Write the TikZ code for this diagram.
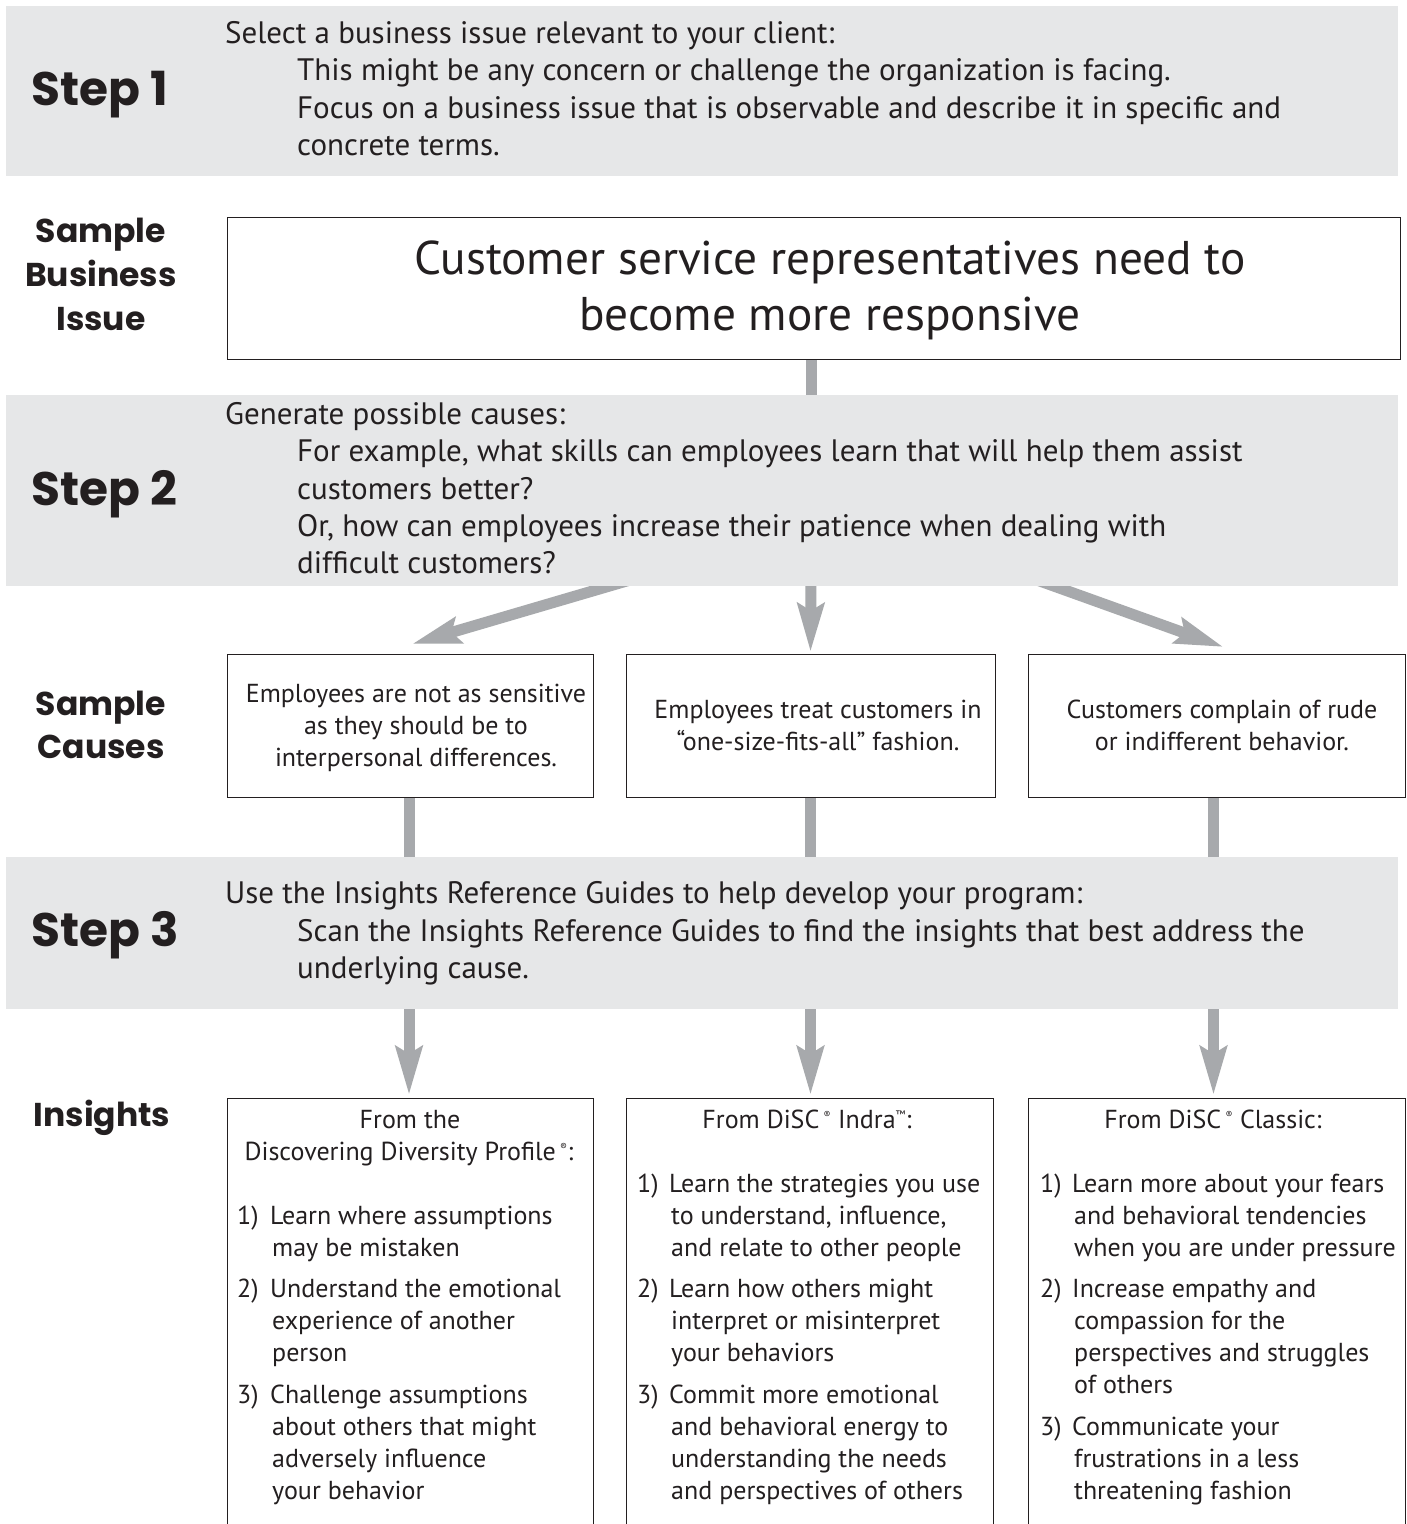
\documentclass[tikz,border=0pt]{standalone}
\usepackage{fontspec}
\setmainfont{PT Sans}
\newfontfamily\headfont{Poppins}
\usetikzlibrary{arrows.meta}
\definecolor{ink}{HTML}{231F20}
\definecolor{bandgray}{HTML}{E6E7E8}
\definecolor{arrowgray}{HTML}{A7A9AC}
\pgfdeclarelayer{bg}
\pgfsetlayers{bg,main}
\newcommand\regm{\textsuperscript{\scalebox{0.55}{®}}}
\newcommand\tmm{\textsuperscript{\scalebox{0.6}{™}}}
\begin{document}
\begin{tikzpicture}[x=1pt,y=-1pt,
  band/.style={fill=bandgray, draw=none, anchor=north west, inner sep=0pt, outer sep=0pt},
  box/.style={draw=ink, line width=1pt, fill=white, anchor=north west, inner sep=0pt, outer sep=0pt},
  conn/.style={draw=arrowgray, line width=11pt},
  arr/.style={conn, -{Stealth[length=48pt,width=26pt,inset=7pt]}},
  headbig/.style={font=\headfont\bfseries\fontsize{47}{50}\selectfont, text=ink, inner sep=0pt, anchor=base west},
  headsm/.style={font=\headfont\bfseries\fontsize{33}{40}\selectfont, text=ink, inner sep=0pt, anchor=base},
  body/.style={font=\fontsize{31}{36}\selectfont, text=ink, inner sep=0pt, anchor=base west},
  big/.style={font=\fontsize{47.3}{56}\selectfont, text=ink, inner sep=0pt, anchor=base},
  sm/.style={font=\fontsize{26}{30}\selectfont, text=ink, inner sep=0pt, anchor=base west},
  smc/.style={sm, anchor=base}]
\useasboundingbox (0,0) rectangle (1407,1524);
\begin{pgfonlayer}{bg}
\fill[white] (0,0) rectangle (1407,1524);
\end{pgfonlayer}
% bands
\node[band, minimum width=1392pt, minimum height=170pt] (band1) at (6,6) {};
\node[band, minimum width=1392pt, minimum height=191pt] (band2) at (6,395) {};
\node[band, minimum width=1392pt, minimum height=152pt] (band3) at (6,857) {};
% boxes
\node[box, minimum width=1173pt, minimum height=142pt] (issue) at (227,217) {};
\node[box, minimum width=366pt, minimum height=143pt] (c1) at (227,654) {};
\node[box, minimum width=369pt, minimum height=143pt] (c2) at (626,654) {};
\node[box, minimum width=377pt, minimum height=143pt] (c3) at (1028,654) {};
\node[box, minimum width=366pt, minimum height=450pt] (i1) at (227,1098) {};
\node[box, minimum width=367pt, minimum height=450pt] (i2) at (626,1098) {};
\node[box, minimum width=377pt, minimum height=450pt] (i3) at (1028,1098) {};
% connectors
\begin{pgfonlayer}{bg}
\draw[conn] ([xshift=-2pt]issue.south) -- ([xshift=-2pt,yshift=-8pt]band2.north -| issue.south);
\draw[arr] ([xshift=-72pt,yshift=6pt]band2.south) -- ([xshift=2pt,yshift=10pt]c1.north);
\draw[arr] ([xshift=109pt,yshift=6pt]band2.south) -- ([xshift=0pt,yshift=2pt]c2.north);
\draw[arr] ([xshift=335pt,yshift=6pt]band2.south) -- ([xshift=7pt,yshift=7pt]c3.north);
\draw[conn] ([xshift=-1pt]c1.south) -- ([xshift=-1pt,yshift=-8pt]band3.north -| c1.south);
\draw[conn] ([xshift=0pt]c2.south) -- ([yshift=-8pt]band3.north -| c2.south);
\draw[conn] ([xshift=-3pt]c3.south) -- ([xshift=-3pt,yshift=-8pt]band3.north -| c3.south);
\draw[arr] ([xshift=-1pt,yshift=6pt]band3.south -| i1.north) -- ([xshift=-1pt,yshift=3pt]i1.north);
\draw[arr] ([xshift=1pt,yshift=6pt]band3.south -| i2.north) -- ([xshift=1pt,yshift=3pt]i2.north);
\draw[arr] ([xshift=-3pt,yshift=6pt]band3.south -| i3.north) -- ([xshift=-3pt,yshift=3pt]i3.north);
\end{pgfonlayer}
% left headings
\node[headbig] (h1) at (31,105) {Step 1};
\node[headsm] (h2a) at (101,242) {Sample};
\node[headsm] (h2b) at (101,286) {Business};
\node[headsm] (h2c) at (101,330) {Issue};
\node[headbig] (h3) at (31,505) {Step 2};
\node[headsm] (h4a) at (101,715) {Sample};
\node[headsm] (h4b) at (101,758) {Causes};
\node[headbig] (h5) at (31,946) {Step 3};
\node[headsm] (h6) at (102,1126) {Insights};
% step 1 text
\node[body] (s1a) at (225,43) {Select a business issue relevant to your client:};
\node[body] (s1b) at (297,80) {This might be any concern or challenge the organization is facing.};
\node[body] (s1c) at (297,118) {Focus on a business issue that is observable and describe it in specific and};
\node[body] (s1d) at (297,155) {concrete terms.};
% issue
\node[big] (is1) at (830,274) {Customer service representatives need to};
\node[big] (is2) at (830,330) {become more responsive};
% step 2 text
\node[body] (s2a) at (225,424) {Generate possible causes:};
\node[body] (s2b) at (297,461) {For example, what skills can employees learn that will help them assist};
\node[body] (s2c) at (297,499) {customers better?};
\node[body] (s2d) at (297,536) {Or, how can employees increase their patience when dealing with};
\node[body] (s2e) at (297,573) {difficult customers?};
% causes
\node[smc] (c1a) at (416,702) {Employees are not as sensitive};
\node[smc] (c1b) at (416,734) {as they should be to};
\node[smc] (c1c) at (416,766) {interpersonal differences.};
\node[smc] (c2a) at (818,718) {Employees treat customers in};
\node[smc] (c2b) at (818,750) {“one-size-fits-all” fashion.};
\node[smc] (c3a) at (1222,718) {Customers complain of rude};
\node[smc] (c3b) at (1222,750) {or indifferent behavior.};
% step 3 text
\node[body] (s3a) at (225,903) {Use the Insights Reference Guides to help develop your program:};
\node[body] (s3b) at (297,941) {Scan the Insights Reference Guides to find the insights that best address the};
\node[body] (s3c) at (297,978) {underlying cause.};
% insights col 1
\node[smc] (a0) at (410,1128) {From the};
\node[smc] (a1) at (409,1160) {Discovering Diversity Profile\,\regm:};
\node[sm] (a2n) at (237,1224) {1)};
\node[sm] (a2) at (270,1224) {Learn where assumptions};
\node[sm] (a3) at (272,1256) {may be mistaken};
\node[sm] (a4n) at (237,1297) {2)};
\node[sm] (a4) at (270,1297) {Understand the emotional};
\node[sm] (a5) at (272,1329) {experience of another};
\node[sm] (a6) at (272,1361) {person};
\node[sm] (a7n) at (237,1403) {3)};
\node[sm] (a7) at (270,1403) {Challenge assumptions};
\node[sm] (a8) at (272,1435) {about others that might};
\node[sm] (a9) at (272,1467) {adversely influence};
\node[sm] (a10) at (272,1499) {your behavior};
% insights col 2
\node[smc] (b0) at (807,1128) {From DiSC\,\regm\ Indra\tmm:};
\node[sm] (b1n) at (637,1192) {1)};
\node[sm] (b1) at (669,1192) {Learn the strategies you use};
\node[sm] (b2) at (671,1224) {to understand, influence,};
\node[sm] (b3) at (671,1256) {and relate to other people};
\node[sm] (b4n) at (637,1297) {2)};
\node[sm] (b4) at (669,1297) {Learn how others might};
\node[sm] (b5) at (671,1329) {interpret or misinterpret};
\node[sm] (b6) at (671,1361) {your behaviors};
\node[sm] (b7n) at (637,1403) {3)};
\node[sm] (b7) at (669,1403) {Commit more emotional};
\node[sm] (b8) at (671,1435) {and behavioral energy to};
\node[sm] (b9) at (671,1467) {understanding the needs};
\node[sm] (b10) at (671,1499) {and perspectives of others};
% insights col 3
\node[smc] (d0) at (1213,1128) {From DiSC\,\regm\ Classic:};
\node[sm] (d1n) at (1040,1192) {1)};
\node[sm] (d1) at (1072,1192) {Learn more about your fears};
\node[sm] (d2) at (1074,1224) {and behavioral tendencies};
\node[sm] (d3) at (1074,1256) {when you are under pressure};
\node[sm] (d4n) at (1040,1297) {2)};
\node[sm] (d4) at (1072,1297) {Increase empathy and};
\node[sm] (d5) at (1074,1329) {compassion for the};
\node[sm] (d6) at (1074,1361) {perspectives and struggles};
\node[sm] (d7) at (1074,1393) {of others};
\node[sm] (d8n) at (1040,1435) {3)};
\node[sm] (d8) at (1072,1435) {Communicate your};
\node[sm] (d9) at (1074,1467) {frustrations in a less};
\node[sm] (d10) at (1074,1499) {threatening fashion};
\end{tikzpicture}
\end{document}
